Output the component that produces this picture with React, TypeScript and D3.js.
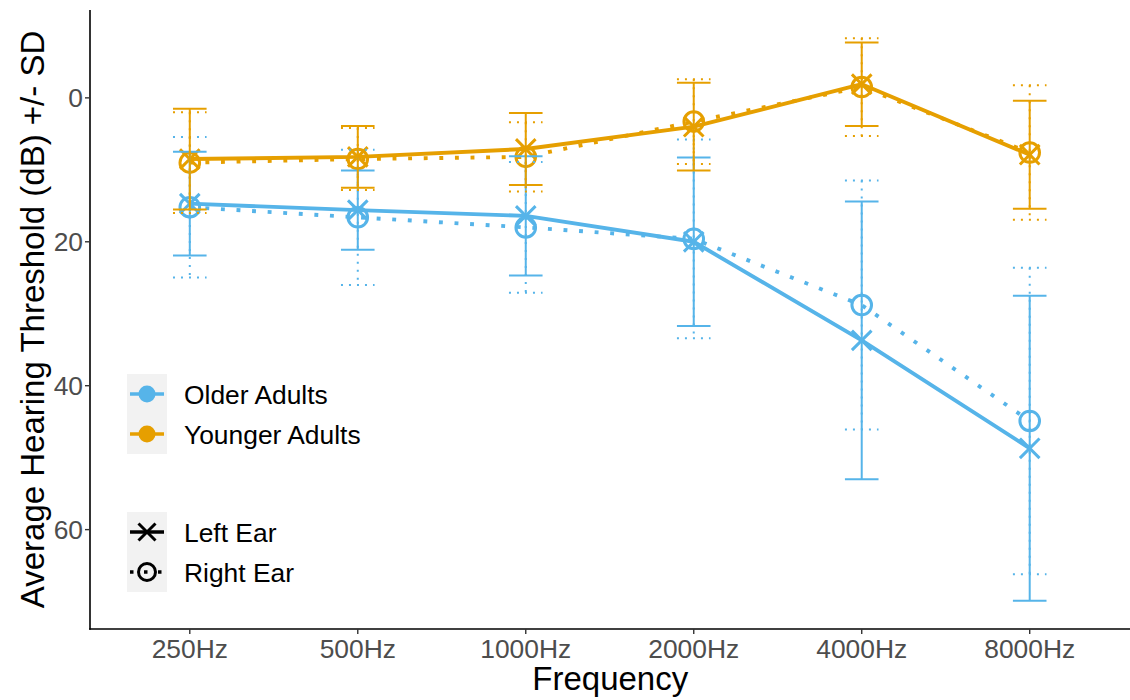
import React from "react";
import * as d3 from "d3";

// x categories
const frequencies = ["250Hz", "500Hz", "1000Hz", "2000Hz", "4000Hz", "8000Hz"];

// mean thresholds (dB) and SDs
const olderLeftMean = [14.7, 15.6, 16.4, 20.0, 33.7, 48.7];
const olderLeftSD = [7.2, 5.5, 8.3, 11.7, 19.3, 21.2];
const olderRightMean = [15.2, 16.6, 18.0, 19.6, 28.8, 44.9];
const olderRightSD = [9.75, 9.4, 9.1, 13.8, 17.3, 21.3];
const youngerLeftMean = [8.5, 8.2, 7.1, 4.0, -1.9, 7.9];
const youngerLeftSD = [7.0, 4.3, 5.0, 6.1, 5.8, 7.5];
const youngerRightMean = [9.0, 8.5, 8.2, 3.3, -1.5, 7.6];
const youngerRightSD = [7.0, 4.3, 4.8, 5.9, 6.8, 9.35];

const yTicks = [0, 20, 40, 60];
const groupLabels = ["Older Adults", "Younger Adults"];
const earLabels = ["Left Ear", "Right Ear"];

const groupColor: Record<string, string> = {
  "Older Adults": "#56B4E9",
  "Younger Adults": "#E69F00",
};

const series = [
  { group: "Older Adults", ear: "Left Ear", mean: olderLeftMean, sd: olderLeftSD },
  { group: "Older Adults", ear: "Right Ear", mean: olderRightMean, sd: olderRightSD },
  { group: "Younger Adults", ear: "Left Ear", mean: youngerLeftMean, sd: youngerLeftSD },
  { group: "Younger Adults", ear: "Right Ear", mean: youngerRightMean, sd: youngerRightSD },
];

const FONT = "'Liberation Sans', Arial, Helvetica, sans-serif";
const panel = { left: 90, right: 1130.5, top: 10, bottom: 629 };

function Marker({ ear, color, size = 9.8 }: { ear: string; color: string; size?: number }) {
  if (ear === "Left Ear") {
    return (
      <path
        d={`M${-size},${-size}L${size},${size}M${-size},${size}L${size},${-size}`}
        stroke={color}
        strokeWidth={3}
        fill="none"
      />
    );
  }
  return <circle r={size} stroke={color} strokeWidth={3} fill="none" />;
}

export default function App() {
  const x = d3
    .scalePoint<string>()
    .domain(frequencies)
    .range([89, panel.right])
    .padding(0.6);

  // y is reversed like an audiogram: 0 dB at the top
  const lows = series.flatMap((s) => s.mean.map((m, i) => m - s.sd[i]));
  const highs = series.flatMap((s) => s.mean.map((m, i) => m + s.sd[i]));
  const lo = d3.min(lows) as number;
  const hi = d3.max(highs) as number;
  const pad = (hi - lo) * 0.05;
  const y = d3.scaleLinear().domain([lo - pad, hi + pad]).range([panel.top, panel.bottom]);

  const step = x.step();
  const capHalf = step * 0.1;

  const line = d3
    .line<number>()
    .x((_, i) => x(frequencies[i]) as number)
    .y((d) => y(d));

  const dash = (ear: string, w: number) => (ear === "Right Ear" ? `${w} ${w * 3}` : undefined);

  return (
    <svg
      width={1130}
      height={700}
      style={{ position: "absolute", left: 0, top: 0, background: "#fff" }}
      fontFamily={FONT}
    >
      {/* lines */}
      {series.map((s, k) => (
        <path
          key={"l" + k}
          d={line(s.mean) || ""}
          fill="none"
          stroke={groupColor[s.group]}
          strokeWidth={3.9}
          strokeDasharray={dash(s.ear, 3.9)}
          strokeLinejoin="round"
        />
      ))}

      {/* points */}
      {series.map((s, k) =>
        s.mean.map((m, i) => (
          <g key={"p" + k + "-" + i} transform={`translate(${x(frequencies[i])},${y(m)})`}>
            <Marker ear={s.ear} color={groupColor[s.group]} />
          </g>
        ))
      )}

      {/* error bars */}
      {series.map((s, k) =>
        s.mean.map((m, i) => {
          const cx = x(frequencies[i]) as number;
          const y1 = y(m - s.sd[i]);
          const y2 = y(m + s.sd[i]);
          const c = groupColor[s.group];
          const da = dash(s.ear, 2);
          return (
            <g key={"e" + k + "-" + i} stroke={c} strokeWidth={2} strokeDasharray={da}>
              <line x1={cx - capHalf} x2={cx + capHalf} y1={y1} y2={y1} />
              <line x1={cx} x2={cx} y1={y1} y2={y2} />
              <line x1={cx - capHalf} x2={cx + capHalf} y1={y2} y2={y2} />
            </g>
          );
        })
      )}

      {/* axes */}
      <line x1={panel.left} x2={panel.left} y1={panel.top} y2={panel.bottom + 0.8} stroke="#000" strokeWidth={1.6} />
      <line x1={panel.left - 0.8} x2={panel.right} y1={panel.bottom} y2={panel.bottom} stroke="#000" strokeWidth={1.6} />
      {yTicks.map((t) => (
        <g key={"yt" + t}>
          <line x1={panel.left - 5} x2={panel.left} y1={y(t)} y2={y(t)} stroke="#333" strokeWidth={1.4} />
          <text x={panel.left - 7} y={y(t)} dy="0.36em" textAnchor="end" fontSize={26.4} fill="#4D4D4D">
            {t}
          </text>
        </g>
      ))}
      {frequencies.map((f) => (
        <g key={"xt" + f}>
          <line x1={x(f)} x2={x(f)} y1={panel.bottom} y2={panel.bottom + 5} stroke="#333" strokeWidth={1.4} />
          <text x={x(f)} y={658} textAnchor="middle" fontSize={26.4} fill="#4D4D4D">
            {f}
          </text>
        </g>
      ))}
      <text x={(panel.left + panel.right) / 2} y={690} textAnchor="middle" fontSize={33}>
        Frequency
      </text>
      <text
        transform={`translate(44,${(panel.top + panel.bottom) / 2}) rotate(-90)`}
        textAnchor="middle"
        fontSize={33}
      >
        Average Hearing Threshold (dB) +/- SD
      </text>

      {/* colour legend */}
      <g transform="translate(127,374)">
        {groupLabels.map((g, i) => (
          <g key={g} transform={`translate(0,${i * 40})`}>
            <rect width={40} height={40} fill="#F2F2F2" />
            <line x1={3} x2={37} y1={20} y2={20} stroke={groupColor[g]} strokeWidth={3.5} />
            <circle cx={20} cy={20} r={8.5} fill={groupColor[g]} />
            <text x={57} y={20} dy="0.36em" fontSize={26.4}>
              {g}
            </text>
          </g>
        ))}
      </g>

      {/* shape legend */}
      <g transform="translate(127,512)">
        {earLabels.map((e, i) => (
          <g key={e} transform={`translate(0,${i * 40})`}>
            <rect width={40} height={40} fill="#F2F2F2" />
            <line
              x1={3}
              x2={37}
              y1={20}
              y2={20}
              stroke="#000"
              strokeWidth={3.5}
              strokeDasharray={dash(e, 3.5)}
            />
            <g transform="translate(20,20)">
              <Marker ear={e} color="#000" size={8.5} />
            </g>
            <text x={57} y={20} dy="0.36em" fontSize={26.4}>
              {e}
            </text>
          </g>
        ))}
      </g>
    </svg>
  );
}
